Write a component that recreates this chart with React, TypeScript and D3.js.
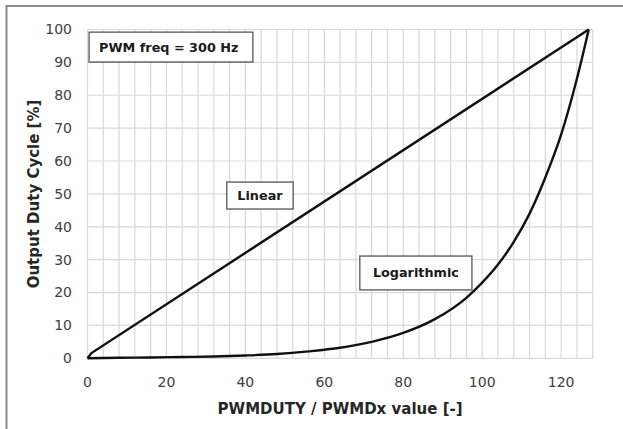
import React from "react";
import * as d3 from "d3";

// PWM register value vs output duty cycle
const linearX = [0, 1, 127];
const linearY = [0, 1.6, 100];

const logX = [0, 8, 16, 24, 32, 40, 48, 56, 64, 72, 80, 88, 96, 100, 104, 108, 112, 116, 120, 124, 127];
const logY = [0, 0.15, 0.25, 0.4, 0.55, 0.85, 1.3, 2.1, 3.2, 5.0, 7.7, 11.9, 18.4, 23, 28.5, 35.4, 44, 55, 68, 85, 100];

const xTicks = [0, 20, 40, 60, 80, 100, 120];
const yTicks = [0, 10, 20, 30, 40, 50, 60, 70, 80, 90, 100];

// labels boxes in data units: [x0, x1, yTop, yBottom]
const labels = ["PWM freq = 300 Hz", "Linear", "Logarithmic"];
const labelBoxes = [
  [0.4, 41.9, 99.2, 90.1],
  [35.3, 52.1, 53.6, 45.4],
  [69, 97.4, 31.1, 20.8],
];
const labelAlign = ["start", "middle", "middle"];

const W = 623;
const H = 429;
const plot = { left: 87.5, right: 592.7, top: 29.5, bottom: 358.3 };
const font = "'DejaVu Sans', sans-serif";

export default function App() {
  const x = d3.scaleLinear().domain([0, 128]).range([plot.left, plot.right]);
  const y = d3.scaleLinear().domain([0, 100]).range([plot.bottom, plot.top]);

  const line = d3
    .line<[number, number]>()
    .x((d) => x(d[0]))
    .y((d) => y(d[1]));
  const smooth = d3
    .line<[number, number]>()
    .x((d) => x(d[0]))
    .y((d) => y(d[1]))
    .curve(d3.curveMonotoneX);

  const linPts = linearX.map((v, i) => [v, linearY[i]] as [number, number]);
  const logPts = logX.map((v, i) => [v, logY[i]] as [number, number]);

  const vGrid = d3.range(0, 129, 4);

  return (
    <svg
      width={W}
      height={H}
      style={{ position: "absolute", left: 0, top: 0, background: "#fff" }}
    >
      <rect x={6.5} y={6} width={700} height={500} fill="none" stroke="#8a8a8a" strokeWidth={2} />

      {/* grid */}
      <g stroke="#d9d9d9" strokeWidth={1.2}>
        {vGrid.map((v) => (
          <line key={"v" + v} x1={x(v)} x2={x(v)} y1={plot.top} y2={plot.bottom} />
        ))}
        {yTicks.map((v) => (
          <line key={"h" + v} x1={plot.left} x2={plot.right} y1={y(v)} y2={y(v)} />
        ))}
      </g>

      {/* tick labels */}
      <g fontFamily={font} fontSize={14} fill="#404040">
        {yTicks.map((v) => (
          <text key={"yt" + v} x={72} y={y(v)} dy="0.35em" textAnchor="end">
            {v}
          </text>
        ))}
        {xTicks.map((v) => (
          <text key={"xt" + v} x={x(v)} y={382} dy="0.35em" textAnchor="middle">
            {v}
          </text>
        ))}
      </g>

      {/* axis titles */}
      <text
        x={(plot.left + plot.right) / 2}
        y={414}
        textAnchor="middle"
        fontFamily={font}
        fontWeight="bold"
        fontSize={15}
        fill="#262626"
      >
        PWMDUTY / PWMDx value [-]
      </text>
      <text
        transform={`translate(39,194) rotate(-90)`}
        textAnchor="middle"
        fontFamily={font}
        fontWeight="bold"
        fontSize={15}
        fill="#262626"
      >
        Output Duty Cycle [%]
      </text>

      {/* series */}
      <path d={line(linPts) || ""} fill="none" stroke="#111" strokeWidth={2.4} />
      <path d={smooth(logPts) || ""} fill="none" stroke="#111" strokeWidth={2.4} />

      {/* annotation boxes */}
      {labels.map((t, i) => {
        const [a, b, c, e] = labelBoxes[i];
        const x0 = x(a);
        const x1 = x(b);
        const y0 = y(c);
        const y1 = y(e);
        return (
          <g key={t}>
            <rect x={x0} y={y0} width={x1 - x0} height={y1 - y0} fill="#fff" stroke="#555" strokeWidth={1.3} />
            <text
              x={labelAlign[i] === "start" ? x0 + 10 : (x0 + x1) / 2}
              y={(y0 + y1) / 2}
              dy="0.35em"
              textAnchor={labelAlign[i]}
              fontFamily={font}
              fontWeight="bold"
              fontSize={12.8}
              fill="#1a1a1a"
            >
              {t}
            </text>
          </g>
        );
      })}
    </svg>
  );
}
